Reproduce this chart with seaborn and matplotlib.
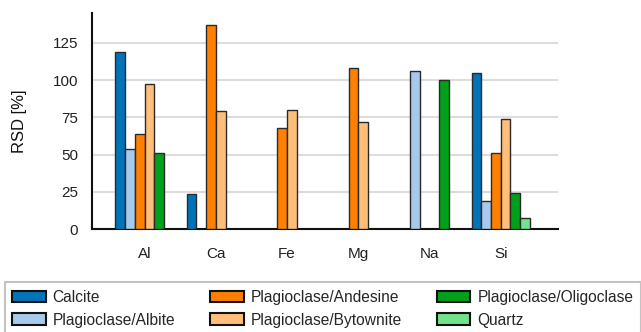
import numpy as np
import pandas as pd
import matplotlib
matplotlib.use("Agg")
import matplotlib.pyplot as plt
import seaborn as sns

elements = ["Al", "Ca", "Fe", "Mg", "Na", "Si"]
minerals = ["Calcite", "Plagioclase/Albite", "Plagioclase/Andesine",
            "Plagioclase/Bytownite", "Plagioclase/Oligoclase", "Quartz"]
nan = np.nan
calcite = [119, 23.5, nan, nan, nan, 105]
albite = [54, nan, nan, nan, 106, 18.5]
andesine = [64, 137, 67.5, 108, nan, 51]
bytownite = [97.5, 79, 80, 72, nan, 74]
oligoclase = [51, nan, nan, nan, 100, 24.5]
quartz = [nan, nan, nan, nan, nan, 7.2]
colors = ["#0173B8", "#A6C9EC", "#FF8000", "#FFBF7A", "#00A01A", "#72E38C"]
yticks = [0, 25, 50, 75, 100, 125]

series = [calcite, albite, andesine, bytownite, oligoclase, quartz]
rows = []
for m, vals in zip(minerals, series):
    for e, v in zip(elements, vals):
        rows.append({"element": e, "mineral": m, "rsd": v})
df = pd.DataFrame(rows)

sns.set_theme(style="white")
plt.rcParams["font.family"] = ["Liberation Sans", "DejaVu Sans"]

fig = plt.figure(figsize=(6.41, 3.32), dpi=100)
ax = fig.add_axes([0.1435, 0.3102, 0.870 - 0.1435, 0.9608 - 0.3102])

sns.barplot(data=df, x="element", y="rsd", hue="mineral", order=elements,
            hue_order=minerals, palette=colors, saturation=1, width=0.82, ax=ax,
            edgecolor="#2a2a2a", linewidth=1.0, errorbar=None, zorder=3)

ax.set_xlim(-0.74, 5.8)
ax.set_ylim(0, 145)
ax.set_yticks(yticks)
ax.set_xlabel("")
ax.set_ylabel("RSD [%]", fontsize=12, color="#111111")
ax.yaxis.set_label_coords((27 - 92) / 466, 0.5)
ax.yaxis.grid(True, color="#dddddd", linewidth=1.5, zorder=0)
ax.set_axisbelow(True)
for s in ["top", "right"]:
    ax.spines[s].set_visible(False)
for s in ["left", "bottom"]:
    ax.spines[s].set_color("#111111")
    ax.spines[s].set_linewidth(1.5)
ax.tick_params(axis="both", length=0, labelsize=11, labelcolor="#222222")
ax.tick_params(axis="y", pad=10)
ax.tick_params(axis="x", pad=13)

ax.get_legend().remove()
handles, labels = ax.get_legend_handles_labels()
leg = fig.legend(handles, labels, loc="upper left",
                 bbox_to_anchor=(4.5 / 641, 1 - 282 / 332), ncol=3,
                 fontsize=11.2, frameon=True, fancybox=False,
                 handlelength=2.15, handleheight=0.75, handletextpad=0.45,
                 columnspacing=2.25, borderpad=0.5, labelspacing=0.5,
                 borderaxespad=0)
leg.get_frame().set_edgecolor("#b5b5b5")
leg.get_frame().set_linewidth(1.5)
for h in leg.legend_handles:
    h.set_edgecolor("#111111")
    h.set_linewidth(1.5)

fig.savefig("out.png", dpi=100)
